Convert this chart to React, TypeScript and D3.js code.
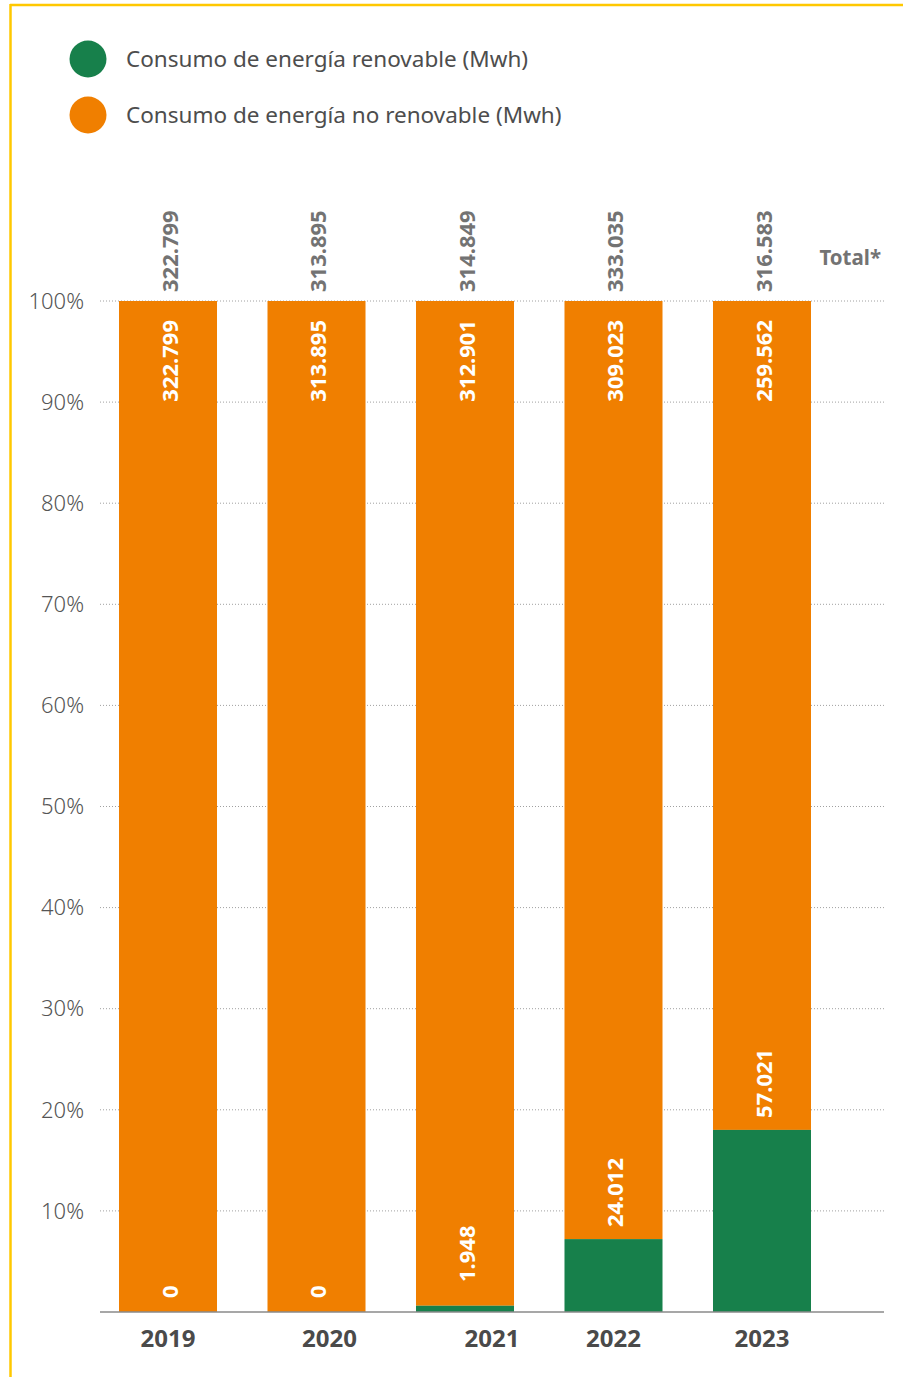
import React from "react";
import * as d3 from "d3";

const years = ["2019", "2020", "2021", "2022", "2023"];
const renewable = [0, 0, 1948, 24012, 57021];
const nonRenewable = [322799, 313895, 312901, 309023, 259562];
const totals = [322799, 313895, 314849, 333035, 316583];
const yTicks = [10, 20, 30, 40, 50, 60, 70, 80, 90, 100];
const legendLabels = [
  "Consumo de energía renovable (Mwh)",
  "Consumo de energía no renovable (Mwh)",
];
const yearLabelOffsets = [0, 13, 27, 0, 0];

const W = 903;
const H = 1377;
const GREEN = "#17804B";
const ORANGE = "#F07F00";
const FONT = "'Noto Sans', sans-serif";

const locale = d3.formatLocale({
  decimal: ",",
  thousands: ".",
  grouping: [3],
  currency: ["", "€"],
});
const fmt = locale.format(",d");

export default function App() {
  const x = d3
    .scaleBand<string>()
    .domain(years)
    .range([119, 811])
    .paddingInner(0.34)
    .paddingOuter(0);
  const y = d3.scaleLinear().domain([0, 100]).range([1312, 301]);
  const bw = x.bandwidth();
  const y0 = y(0);

  return (
    <svg
      width={W}
      height={H}
      style={{ position: "absolute", left: 0, top: 0, background: "#fff" }}
      fontFamily={FONT}
    >
      {/* frame */}
      <line x1={10} y1={5} x2={W} y2={5} stroke="#FFC800" strokeWidth={2.5} />
      <line x1={10.5} y1={4} x2={10.5} y2={H} stroke="#FFC800" strokeWidth={2.5} />

      {/* legend */}
      {legendLabels.map((l, i) => (
        <g key={l}>
          <circle cx={88} cy={59 + i * 56} r={18.5} fill={i === 0 ? GREEN : ORANGE} />
          <text x={126} y={59 + i * 56} dy="0.35em" fontSize={22.5} fill="#4d4d4d">
            {l}
          </text>
        </g>
      ))}

      {/* grid */}
      {yTicks.map((t) => (
        <g key={t}>
          <line
            x1={100}
            x2={884}
            y1={y(t)}
            y2={y(t)}
            stroke="#a0a0a0"
            strokeWidth={1}
            strokeDasharray="1,2"
          />
          <text
            x={84}
            y={y(t)}
            dy="0.35em"
            textAnchor="end"
            fontSize={22}
            fill="#555"
            fontWeight={300}
          >
            {t}%
          </text>
        </g>
      ))}

      {/* bars */}
      {years.map((yr, i) => {
        const tot = renewable[i] + nonRenewable[i];
        const gPct = (renewable[i] / tot) * 100;
        const x0 = x(yr)!;
        const cx = x0 + bw / 2;
        const gTop = y(gPct);
        const gy = renewable[i] === 0 ? y0 - 14 : Math.min(gTop - 12, y0 - 30);
        return (
          <g key={yr}>
            <rect x={x0} y={y(100)} width={bw} height={y(gPct) - y(100)} fill={ORANGE} />
            <rect x={x0} y={gTop} width={bw} height={y0 - gTop} fill={GREEN} />
            {/* total */}
            <text
              transform={`translate(${cx + 2},${292}) rotate(-90)`}
              dy="0.36em"
              textAnchor="start"
              fontSize={22}
              fontWeight={700}
              fill="#737373"
            >
              {fmt(totals[i])}
            </text>
            {/* non-renewable */}
            <text
              transform={`translate(${cx + 2},${320}) rotate(-90)`}
              dy="0.36em"
              textAnchor="end"
              fontSize={22}
              fontWeight={700}
              fill="#fff"
            >
              {fmt(nonRenewable[i])}
            </text>
            {/* renewable */}
            <text
              transform={`translate(${cx + 2},${gy}) rotate(-90)`}
              dy="0.36em"
              textAnchor="start"
              fontSize={22}
              fontWeight={700}
              fill="#fff"
            >
              {fmt(renewable[i])}
            </text>
            {/* year */}
            <text
              x={cx + yearLabelOffsets[i]}
              y={1347}
              textAnchor="middle"
              fontSize={24}
              fontWeight={700}
              fill="#4a4a4a"
            >
              {yr}
            </text>
          </g>
        );
      })}

      {/* baseline */}
      <line x1={100} x2={884} y1={y0} y2={y0} stroke="#8a8a8a" strokeWidth={1.5} />

      <text x={881} y={265} textAnchor="end" fontSize={20.5} fontWeight={700} fill="#737373">
        Total*
      </text>
    </svg>
  );
}
